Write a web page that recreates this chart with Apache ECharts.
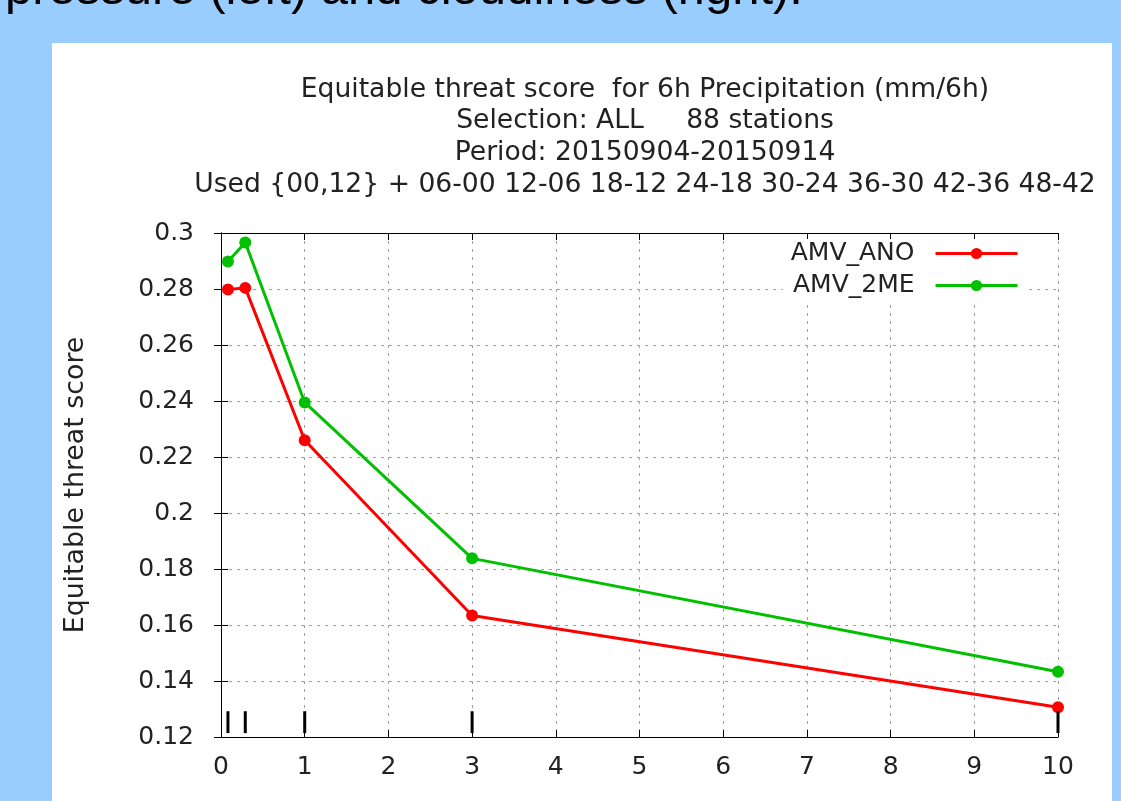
<!DOCTYPE html>
<html>
<head>
<meta charset="utf-8">
<script src="https://cdn.jsdelivr.net/npm/echarts@6/dist/echarts.min.js"></script>
<style>
html,body{margin:0;padding:0;background:#99ccff;}
#chart{width:1121px;height:801px;}
</style>
</head>
<body>
<div id="chart"></div>
<script>
// ---- data ----
const titleLines = [
  'Equitable threat score  for 6h Precipitation (mm/6h)',
  'Selection: ALL     88 stations',
  'Period: 20150904-20150914',
  'Used {00,12} + 06-00 12-06 18-12 24-18 30-24 36-30 42-36 48-42'
];
const slideText = 'pressure (left) and cloudiness (right).';
const yAxisTitle = 'Equitable threat score';
const seriesNames = ['AMV_ANO', 'AMV_2ME'];
const xValues = [0.083, 0.29, 1, 3, 10];
const amvAno = [0.2798, 0.2804, 0.2260, 0.1634, 0.1306];
const amv2me = [0.2898, 0.2966, 0.2395, 0.1838, 0.1433];
const impulseX = [0.083, 0.29, 1, 3, 10];
const impulseTop = [0.1292, 0.1292, 0.1292, 0.1292, 0.1292];
const impulseBase = 0.1214;

const FONT = 'DejaVu Sans';
const chart = echarts.init(document.getElementById('chart'));
const axisCommon = {
  type: 'value',
  axisLine: { show: true, lineStyle: { color: '#000', width: 1 } },
  axisTick: { show: true, inside: true, length: 7, lineStyle: { color: '#000' } }
};
const fmtY = v => String(+v.toFixed(3));

chart.setOption({
  backgroundColor: '#99ccff',
  animation: false,
  graphic: [
    { type: 'rect', z: -10, silent: true, shape: { x: 52, y: 43, width: 1060, height: 760 }, style: { fill: '#ffffff' } },
    { type: 'text', x: 5, y: 15, silent: true, style: { text: slideText, font: '49px "Liberation Sans"', fill: '#000', align: 'left', verticalAlign: 'bottom' } }
  ],
  title: {
    text: titleLines.join('\n'),
    left: 640, top: 69, textAlign: 'center',
    textStyle: { fontFamily: FONT, fontSize: 26.6, fontWeight: 'normal', color: '#222', lineHeight: 31.7 }
  },
  legend: {
    orient: 'vertical', right: 96, top: 239,
    align: 'right', itemWidth: 82, itemHeight: 14, itemGap: 7,
    backgroundColor: '#fff', padding: [2, 6, 2, 8],
    lineStyle: { width: 3 },
    textStyle: { fontFamily: FONT, fontSize: 25, color: '#222', padding: [0, 16, 0, 0] },
    data: seriesNames
  },
  grid: { left: 221, right: 63, top: 233, bottom: 64 },
  xAxis: [
    Object.assign({}, axisCommon, {
      min: 0, max: 10, interval: 1, position: 'bottom',
      axisLabel: { fontFamily: FONT, fontSize: 25, color: '#222', margin: 18 },
      splitLine: { show: true, lineStyle: { color: '#a0a0a0', type: [3, 5], width: 1 } }
    }),
    Object.assign({}, axisCommon, {
      min: 0, max: 10, interval: 1, position: 'top',
      axisLabel: { show: false }, splitLine: { show: false }
    })
  ],
  yAxis: [
    Object.assign({}, axisCommon, {
      min: 0.12, max: 0.3, interval: 0.02, position: 'left',
      name: yAxisTitle, nameLocation: 'middle', nameRotate: 90, nameGap: 131,
      nameTextStyle: { fontFamily: FONT, fontSize: 26.8, color: '#222' },
      axisLabel: { fontFamily: FONT, fontSize: 25, color: '#222', margin: 27, formatter: fmtY },
      splitLine: { show: true, lineStyle: { color: '#a0a0a0', type: [3, 5], width: 1 } }
    }),
    Object.assign({}, axisCommon, {
      min: 0.12, max: 0.3, interval: 0.02, position: 'right',
      axisLabel: { show: false }, splitLine: { show: false }
    })
  ],
  series: [
    {
      name: seriesNames[0], type: 'line',
      data: xValues.map((x, i) => [x, amvAno[i]]),
      color: '#ff0000', lineStyle: { width: 3, color: '#ff0000' },
      symbol: 'circle', symbolSize: 12, itemStyle: { color: '#ff0000' }, z: 3
    },
    {
      name: seriesNames[1], type: 'line',
      data: xValues.map((x, i) => [x, amv2me[i]]),
      color: '#00c000', lineStyle: { width: 3, color: '#00c000' },
      symbol: 'circle', symbolSize: 12, itemStyle: { color: '#00c000' }, z: 3
    },
    {
      type: 'custom', name: 'impulses', silent: true, z: 4,
      data: impulseX.map((x, i) => [x, impulseTop[i]]),
      renderItem: function (params, api) {
        const p1 = api.coord([api.value(0), impulseBase]);
        const p2 = api.coord([api.value(0), api.value(1)]);
        return { type: 'line', shape: { x1: p1[0], y1: p1[1], x2: p2[0], y2: p2[1] }, style: { stroke: '#000', lineWidth: 3 } };
      }
    }
  ]
});
</script>
</body>
</html>
